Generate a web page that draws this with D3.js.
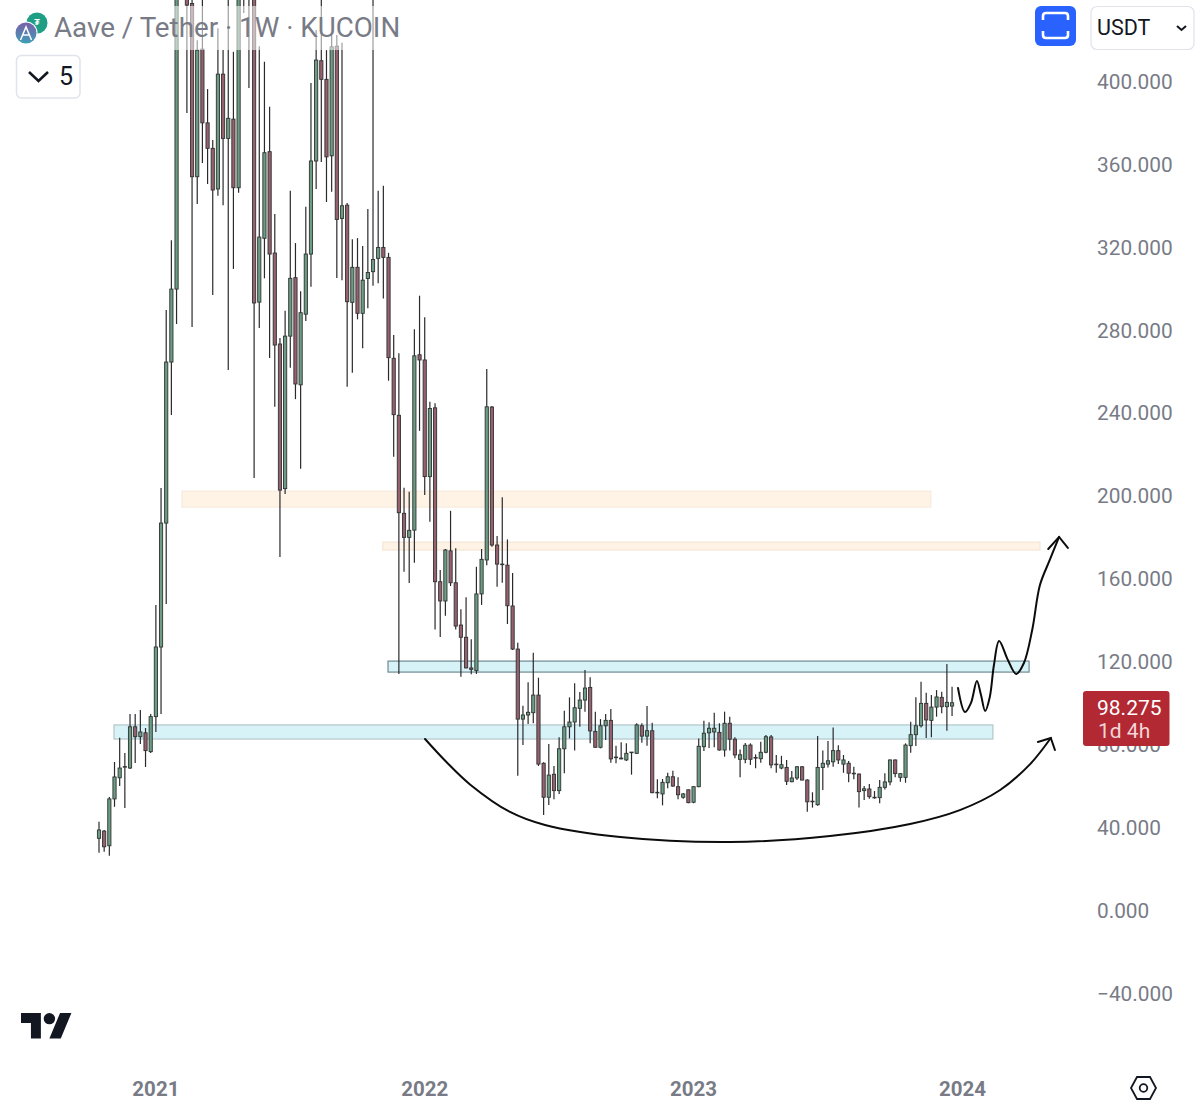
<!DOCTYPE html>
<html>

<head>
  <meta charset="utf-8">
  <script src="https://d3js.org/d3.v7.min.js"></script>
  <style>
    body { margin: 0; background: #fff; }
    text { font-family: Roboto, sans-serif; }
  </style>
</head>

<body>
  <div id="my_dataviz"></div>
  <script>
    // weekly candles, first bar = week of 2020-10-19
    var opens = [34.6, 38.1, 31.0, 53.6, 63.8, 69.0, 68.5, 88.4, 83.6, 85.5, 76.4, 93.3, 126.9, 186.7, 264.4, 299.6, 450, 460, 437.4, 353.8,
      415.4, 379.8, 367.5, 347.9, 403.3, 372.3, 381.6, 348.5, 450, 455, 450, 293.3, 324.1, 365.9, 317.0, 273.1, 203.3, 276.9, 305.1, 253.4,
      287.5, 316.5, 361.4, 409.8, 400.8, 363.9, 416.8, 333.7, 340.1, 293.2, 310.1, 287.9, 304.7, 308.0, 314.4, 319.7, 314.9, 266.2, 238.7, 191.4,
      179.8, 183.3, 267.9, 265.4, 209.1, 242.3, 158.4, 149.1, 173.3, 157.9, 137.5, 131.6, 116.8, 115.5, 152.5, 168.9, 242.7, 176.1, 166.9, 166.4,
      146.7, 125.9, 92.1, 94.1, 95.2, 103.7, 70.8, 54.4, 65.5, 57.6, 77.8, 88.4, 90.7, 97.3, 101.3, 107.4, 86.2, 78.5, 88.9, 91.5,
      73.8, 73.3, 72.4, 76.0, 75.6, 88.9, 83.9, 86.5, 56.8, 56.0, 61.4, 64.3, 59.5, 54.4, 58.0, 52.0, 59.5, 78.8, 85.5, 85.9,
      85.7, 77.2, 90.1, 82.4, 72.7, 72.7, 79.6, 73.6, 73.0, 76.1, 83.5, 70.4, 68.5, 68.8, 61.9, 63.7, 69.1, 62.7, 52.2, 50.8,
      68.8, 70.4, 71.5, 76.9, 70.4, 70.8, 66.0, 65.6, 57.6, 58.4, 54.4, 54.2, 59.2, 61.8, 72.4, 64.0, 64.0, 79.3, 84.6, 88.9,
      99.7, 91.5, 97.9, 102.6, 98.1, 98.4];
    var highs = [42.6, 38.6, 54.5, 71.4, 83.1, 75.7, 94.6, 94.6, 96.5, 87.8, 94.6, 147.2, 203.6, 289.5, 323.2, 460, 500, 470, 450, 419.7,
      445, 396.1, 371.5, 425.5, 414.9, 445, 414.1, 470, 480, 480, 470, 416.8, 409.3, 387.6, 335.8, 276.0, 289.1, 347.0, 321.8, 298.6,
      339.3, 399.0, 424.6, 445, 414.9, 423.1, 422.2, 418.4, 341.1, 323.7, 324.2, 320.4, 338.2, 445, 347.0, 349.4, 317.1, 277.4, 268.6, 203.7,
      201.8, 280.2, 296.4, 286.0, 245.2, 244.5, 164.0, 174.2, 192.6, 174.5, 145.1, 150.9, 130.6, 165.6, 174.2, 261.0, 243.2, 180.4, 199.1, 178.8,
      162.6, 129.0, 98.6, 109.9, 124.1, 112.1, 71.3, 80.1, 69.5, 83.3, 96.2, 102.6, 109.4, 105.2, 115.8, 112.3, 95.7, 92.1, 94.6, 97.0,
      79.3, 80.9, 80.4, 76.2, 90.1, 90.1, 98.4, 90.4, 63.1, 63.2, 66.2, 67.2, 64.0, 56.4, 58.2, 59.8, 82.8, 91.3, 90.6, 95.2,
      90.1, 95.7, 93.3, 83.3, 77.5, 80.6, 80.4, 75.1, 81.2, 84.4, 84.4, 74.8, 74.4, 72.4, 67.1, 69.5, 69.5, 63.1, 56.8, 83.9,
      76.9, 81.5, 88.1, 79.5, 74.8, 71.9, 69.1, 65.9, 59.8, 60.8, 57.4, 62.7, 66.0, 72.6, 72.6, 66.0, 80.4, 90.8, 102.6, 110.1,
      104.8, 103.7, 106.1, 105.3, 118.7, 107.7];
    var lows = [27.6, 28.1, 26.2, 49.8, 59.8, 49.2, 68.0, 70.9, 80.1, 69.0, 75.7, 85.9, 94.6, 147.6, 238.8, 282.7, 445, 384.5, 281.3, 340.6,
      360.4, 350.3, 296.7, 344.6, 340.1, 260.5, 309.3, 346.1, 432.8, 396.6, 208.4, 280.8, 304.8, 266.3, 242.8, 170.3, 200.7, 261.6, 246.5, 212.9,
      284.2, 300.7, 347.9, 360.9, 341.6, 346.6, 304.9, 303.9, 252.5, 259.2, 285.0, 271.1, 290.4, 301.2, 302.4, 295.1, 255.4, 218.7, 113.9, 163.2,
      157.8, 167.6, 231.2, 200.2, 187.3, 135.4, 131.7, 142.0, 156.3, 135.4, 112.6, 116.6, 113.7, 113.9, 147.2, 166.4, 175.3, 156.0, 157.9, 138.0,
      125.4, 64.8, 79.6, 89.7, 90.1, 69.5, 45.8, 50.7, 53.4, 56.0, 66.0, 82.8, 76.9, 88.4, 95.7, 80.4, 78.4, 78.0, 82.0, 71.1,
      70.8, 72.7, 71.9, 65.3, 75.3, 80.7, 79.3, 56.3, 53.9, 50.5, 58.7, 59.5, 53.4, 53.7, 51.5, 51.5, 59.2, 76.7, 78.2, 78.5,
      76.9, 74.0, 76.9, 73.2, 64.0, 70.8, 70.0, 68.4, 71.1, 75.6, 68.4, 66.2, 67.9, 60.3, 61.6, 62.7, 62.6, 47.4, 49.4, 50.3,
      57.9, 68.7, 69.1, 70.4, 66.2, 61.6, 63.1, 49.5, 53.1, 53.7, 53.7, 51.5, 58.2, 60.2, 64.0, 61.9, 61.4, 75.9, 79.1, 88.0,
      83.0, 83.3, 93.3, 94.9, 86.5, 93.6];
    var closes = [38.6, 30.5, 53.6, 64.2, 68.5, 69.2, 88.4, 83.6, 85.9, 76.9, 93.3, 126.9, 186.7, 264.4, 299.6, 450, 480, 436.6, 353.8, 414.9,
      379.8, 367.5, 347.4, 403.3, 372.3, 382.0, 348.5, 450, 460, 445, 292.9, 324.7, 365.4, 316.5, 272.6, 202.6, 276.9, 304.8, 253.8, 288.2,
      316.5, 361.4, 410.1, 400.8, 363.4, 416.5, 333.2, 339.8, 293.5, 310.1, 287.9, 303.9, 307.6, 313.9, 319.7, 314.9, 266.5, 239.0, 191.7, 179.8,
      183.2, 267.4, 265.4, 209.1, 242.0, 158.4, 149.1, 173.7, 157.9, 137.0, 131.6, 116.8, 116.1, 152.5, 169.2, 242.8, 176.1, 166.9, 166.7, 146.8,
      125.9, 92.1, 94.1, 95.4, 103.7, 70.4, 54.4, 65.1, 57.6, 77.8, 88.4, 90.7, 97.6, 101.3, 107.1, 86.4, 78.5, 88.9, 91.5, 72.9,
      73.6, 72.9, 75.6, 76.2, 89.3, 83.9, 86.5, 56.6, 56.5, 61.6, 64.3, 59.8, 55.6, 56.0, 51.8, 59.5, 79.0, 85.3, 87.7, 87.7,
      77.2, 90.1, 82.4, 74.8, 74.9, 79.5, 72.7, 73.3, 76.1, 83.6, 70.0, 70.2, 70.1, 62.1, 63.7, 69.1, 62.7, 52.2, 52.5, 68.8,
      70.8, 72.0, 76.9, 72.4, 72.4, 66.0, 65.7, 57.1, 58.5, 54.7, 54.1, 59.2, 61.8, 72.4, 65.8, 65.8, 79.6, 84.6, 88.9, 99.7,
      91.7, 97.9, 102.8, 98.1, 100.2, 100.0];

    var priceTicks = [400, 360, 320, 280, 240, 200, 160, 120, 80, 40, 0, -40];
    var yearBars = [11, 63, 115, 167];
    var yearLabels = ["2021", "2022", "2023", "2024"];

    // drawn boxes: first bar, last bar, top price, bottom price
    var zoneStart = [16.05, 54.9, 2.9, 55.9];
    var zoneEnd = [160.9, 182, 172.9, 179.9];
    var zoneTop = [202.1, 177.5, 89.3, 120.1];
    var zoneBottom = [194.4, 173.7, 82.5, 114.8];
    var zoneFill = ["#fff3e6", "#fff3e6", "#d7f3f8", "#d7f3f8"];
    var zoneStroke = ["#f7ebde", "#f5e6d5", "#b4c6cb", "#6f8a92"];

    // hand drawn pen strokes, in bar index and price
    var bowlBars = [63.06, 67.2, 71.76, 79.5, 86.27, 100.8, 122.05, 141.4, 156.87, 166.5, 174.3, 180.1, 184.1];
    var bowlPrices = [82.5, 71.4, 60.6, 47.3, 41.0, 35.2, 32.8, 35.7, 41.5, 48.2, 57.9, 70.4, 83.0];
    var bowlHeadBars = [181.6, 184.1, 184.9];
    var bowlHeadPrices = [81.1, 83.0, 77.2];
    var waveBars = [166.15, 167.5, 168.66, 169.8, 170.6, 171.4, 172.3, 173.1, 174.1, 175.8, 177.4, 178.9, 180.5, 182, 183.9, 185.7];
    var wavePrices = [107.1, 95.5, 99.9, 110.5, 103.7, 96.0, 102.8, 118.2, 129.8, 120.6, 113.9, 119.2, 135.1, 156.8, 168.9, 180.0];
    var waveHeadBars = [183.6, 185.7, 187.4];
    var waveHeadPrices = [174.2, 180.0, 174.7];

    var width = 1200, height = 1111;

    var svg = d3.select("#my_dataviz")
      .append("svg")
      .attr("width", width)
      .attr("height", height)
      .style("display", "block");

    var x = d3.scaleLinear().domain([0, 167]).range([99, 962.4]);
    var y = d3.scaleLinear().domain([0, 400]).range([910, 81]);

    // Zones
    svg.selectAll("rect.zone")
      .data(zoneStart)
      .enter()
      .append("rect")
      .attr("class", "zone")
      .attr("x", function (d) { return x(d); })
      .attr("y", function (d, i) { return y(zoneTop[i]); })
      .attr("width", function (d, i) { return x(zoneEnd[i]) - x(d); })
      .attr("height", function (d, i) { return y(zoneBottom[i]) - y(zoneTop[i]); })
      .attr("fill", function (d, i) { return zoneFill[i]; })
      .attr("stroke", function (d, i) { return zoneStroke[i]; })
      .attr("stroke-width", 1.2);

    // Candles
    var candles = svg.selectAll("g.candle")
      .data(opens)
      .enter()
      .append("g")
      .attr("class", "candle");

    candles.append("line")
      .attr("x1", function (d, i) { return x(i); })
      .attr("x2", function (d, i) { return x(i); })
      .attr("y1", function (d, i) { return y(highs[i]); })
      .attr("y2", function (d, i) { return y(lows[i]); })
      .attr("stroke", "#2a2a2e")
      .attr("stroke-width", 1.2);

    candles.append("rect")
      .attr("x", function (d, i) { return x(i) - 1.6; })
      .attr("y", function (d, i) { return y(Math.max(d, closes[i])); })
      .attr("width", 3.2)
      .attr("height", function (d, i) { return Math.max(0.6, Math.abs(y(d) - y(closes[i]))); })
      .attr("fill", function (d, i) { return closes[i] >= d ? "#6d9c84" : "#96606f"; })
      .attr("stroke", "#2f3331")
      .attr("stroke-width", 0.9);

    // Pen strokes
    var pen = d3.line()
      .x(function (d) { return x(d[0]); })
      .y(function (d) { return y(d[1]); });

    function stroke(bars, prices, curve) {
      svg.append("path")
        .attr("d", pen.curve(curve)(d3.zip(bars, prices)))
        .attr("fill", "none")
        .attr("stroke", "#0c0c0c")
        .attr("stroke-width", 2)
        .attr("stroke-linecap", "round");
    }
    stroke(bowlBars, bowlPrices, d3.curveCatmullRom);
    stroke(bowlHeadBars, bowlHeadPrices, d3.curveLinear);
    stroke(waveBars, wavePrices, d3.curveCatmullRom);
    stroke(waveHeadBars, waveHeadPrices, d3.curveLinear);

    // Price axis
    var yAxis = svg.append("g")
      .attr("transform", "translate(1097,0.7)")
      .call(d3.axisRight(y).tickValues(priceTicks).tickSize(0).tickPadding(0).tickFormat(d3.format(".3f")));
    yAxis.select(".domain").remove();
    yAxis.selectAll("text")
      .style("font-family", "Roboto, sans-serif")
      .style("font-size", "20.8px")
      .attr("fill", "#787b86");

    // Time axis
    var xAxis = svg.append("g")
      .attr("transform", "translate(-0.5,1081)")
      .call(d3.axisBottom(x).tickValues(yearBars).tickSize(0).tickPadding(0)
        .tickFormat(function (d, i) { return yearLabels[i]; }));
    xAxis.select(".domain").remove();
    xAxis.selectAll("text")
      .style("font-family", "Roboto, sans-serif")
      .style("font-size", "20.5px")
      .style("font-weight", "700")
      .attr("fill", "#787b86");

    // Last price label
    svg.append("rect")
      .attr("x", 1083).attr("y", 691)
      .attr("width", 86.5).attr("height", 55)
      .attr("rx", 3)
      .attr("fill", "#b22833");
    svg.append("text")
      .attr("x", 1097).attr("y", 715)
      .attr("font-size", 21)
      .attr("fill", "#ffffff")
      .text("98.275");
    svg.append("text")
      .attr("x", 1098).attr("y", 738)
      .attr("font-size", 21)
      .attr("fill", "#f3d5d8")
      .text("1d 4h");

    // Header
    svg.append("rect")
      .attr("x", 10).attr("y", 6)
      .attr("width", 394).attr("height", 44)
      .attr("fill", "#ffffff")
      .attr("fill-opacity", 0.55);
    svg.append("text")
      .attr("x", 54).attr("y", 37)
      .attr("font-size", 27.75)
      .attr("fill", "#787b86")
      .text("Aave / Tether · 1W · KUCOIN");

    svg.append("circle").attr("cx", 37).attr("cy", 23).attr("r", 10.5).attr("fill", "#1f9e86");
    svg.append("text").attr("x", 37).attr("y", 25).attr("text-anchor", "middle")
      .attr("font-size", 9).attr("font-weight", 700).attr("fill", "#ffffff").text("₮");
    svg.append("circle").attr("cx", 26).attr("cy", 33).attr("r", 11.5).attr("fill", "#ffffff");
    var logoGrad = svg.append("defs").append("linearGradient")
      .attr("id", "aave").attr("x1", 0).attr("y1", 0).attr("x2", 0).attr("y2", 1);
    logoGrad.append("stop").attr("offset", 0).attr("stop-color", "#7a5ea8");
    logoGrad.append("stop").attr("offset", 1).attr("stop-color", "#3f9fb8");
    svg.append("circle").attr("cx", 26).attr("cy", 33).attr("r", 10.5).attr("fill", "url(#aave)");
    svg.append("path")
      .attr("d", "M20.5 40 L26 27 L31.5 40 M22.5 35 H29.5")
      .attr("fill", "none").attr("stroke", "#ffffff").attr("stroke-width", 1.5);

    // Legend toggle
    svg.append("rect")
      .attr("x", 16.5).attr("y", 55.5)
      .attr("width", 63.5).attr("height", 42.5)
      .attr("rx", 5)
      .attr("fill", "#ffffff")
      .attr("stroke", "#e0e3eb")
      .attr("stroke-width", 1.5);
    svg.append("path")
      .attr("d", "M29 72 L38.5 81 L48 72")
      .attr("fill", "none").attr("stroke", "#131722").attr("stroke-width", 2.6);
    svg.append("text")
      .attr("x", 59).attr("y", 85)
      .attr("font-size", 25)
      .attr("fill", "#131722")
      .text("5");

    // Screenshot button
    svg.append("rect")
      .attr("x", 1035).attr("y", 6)
      .attr("width", 41).attr("height", 40)
      .attr("rx", 6)
      .attr("fill", "#2962ff");
    svg.append("path")
      .attr("d", "M1043 20 V16 Q1043 13 1046 13 H1065 Q1068 13 1068 16 V20 M1043 31 V35 Q1043 38 1046 38 H1065 Q1068 38 1068 35 V31")
      .attr("fill", "none").attr("stroke", "#ffffff").attr("stroke-width", 2.6);

    // Currency select
    svg.append("rect")
      .attr("x", 1091).attr("y", 6.5)
      .attr("width", 103).attr("height", 43)
      .attr("rx", 6)
      .attr("fill", "#ffffff")
      .attr("stroke", "#e0e3eb")
      .attr("stroke-width", 1.2);
    svg.append("text")
      .attr("x", 1097).attr("y", 35)
      .attr("font-size", 21.5)
      .attr("fill", "#131722")
      .text("USDT");
    svg.append("path")
      .attr("d", "M1177 26 L1181.5 30 L1186 26")
      .attr("fill", "none").attr("stroke", "#131722").attr("stroke-width", 2);

    // TradingView mark
    svg.append("g")
      .attr("transform", "translate(21,1007.3) scale(1.42)")
      .attr("fill", "#131722")
      .call(function (g) {
        g.append("path").attr("d", "M14 22H7V11H0V4h14v18zM28 22h-8l7.5-18h8L28 22z");
        g.append("circle").attr("cx", 20).attr("cy", 8).attr("r", 4);
      });

    // Settings hexagon
    svg.append("path")
      .attr("d", "M1131 1088 L1137 1077 H1150 L1156 1088 L1150 1099 H1137 Z")
      .attr("fill", "none").attr("stroke", "#131722").attr("stroke-width", 1.8);
    svg.append("circle")
      .attr("cx", 1143.5).attr("cy", 1088).attr("r", 3.8)
      .attr("fill", "none").attr("stroke", "#131722").attr("stroke-width", 1.8);
  </script>
</body>

</html>
